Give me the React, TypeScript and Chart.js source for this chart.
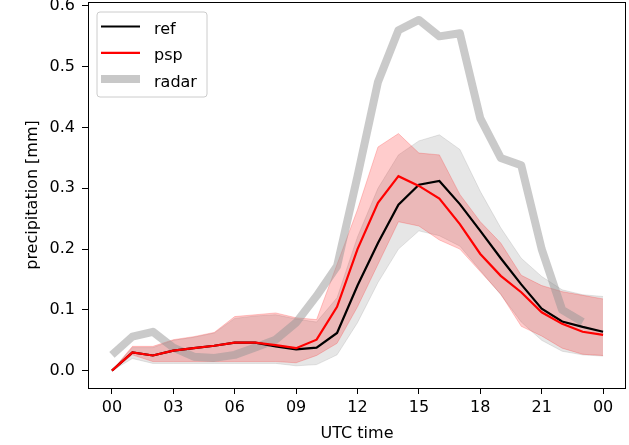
import React, { useEffect, useRef } from "react";
import { Chart, registerables } from "chart.js";

Chart.register(...registerables);

// ---- data ----
const hours = [0, 1, 2, 3, 4, 5, 6, 7, 8, 9, 10, 11, 12, 13, 14, 15, 16, 17, 18, 19, 20, 21, 22, 23, 24];
const tickHours = [0, 3, 6, 9, 12, 15, 18, 21, 24];
const tickLabels = ["00", "03", "06", "09", "12", "15", "18", "21", "00"];
const yTicks = [0, 0.1, 0.2, 0.3, 0.4, 0.5, 0.6];

const refValues = [0.0, 0.03, 0.025, 0.033, 0.037, 0.041, 0.046, 0.046, 0.04, 0.035, 0.038, 0.062, 0.14, 0.21, 0.273, 0.306, 0.312, 0.274, 0.23, 0.185, 0.142, 0.102, 0.081, 0.072, 0.064];
const refLow = [0.0, 0.02, 0.012, 0.012, 0.012, 0.012, 0.012, 0.012, 0.012, 0.008, 0.01, 0.026, 0.079, 0.145, 0.2, 0.23, 0.222, 0.205, 0.165, 0.125, 0.08, 0.05, 0.032, 0.026, 0.024];
const refHigh = [0.0, 0.038, 0.038, 0.05, 0.055, 0.062, 0.086, 0.09, 0.092, 0.085, 0.08, 0.12, 0.22, 0.3, 0.355, 0.378, 0.388, 0.364, 0.295, 0.235, 0.185, 0.155, 0.133, 0.125, 0.122];

const pspValues = [0.0, 0.03, 0.025, 0.033, 0.037, 0.041, 0.046, 0.046, 0.042, 0.037, 0.051, 0.105, 0.2, 0.276, 0.32, 0.304, 0.283, 0.241, 0.192, 0.156, 0.129, 0.096, 0.077, 0.064, 0.059];
const pspLow = [0.0, 0.026, 0.015, 0.015, 0.015, 0.015, 0.015, 0.015, 0.015, 0.013, 0.025, 0.045, 0.105, 0.175, 0.245, 0.238, 0.215, 0.2, 0.163, 0.126, 0.073, 0.057, 0.037, 0.027, 0.025];
const pspHigh = [0.0, 0.04, 0.04, 0.051, 0.056, 0.063, 0.089, 0.092, 0.095, 0.087, 0.084, 0.175, 0.265, 0.368, 0.39, 0.358, 0.355, 0.29, 0.245, 0.21, 0.157, 0.14, 0.13, 0.124, 0.118];

const radarValues = [0.026, 0.056, 0.064, 0.038, 0.023, 0.021, 0.026, 0.038, 0.051, 0.079, 0.123, 0.172, 0.32, 0.475, 0.56, 0.577, 0.55, 0.555, 0.415, 0.35, 0.338, 0.2, 0.1, 0.08, null];

const seriesLabels = { ref: "ref", psp: "psp", radar: "radar" };
const xTitle = "UTC time";
const yTitle = "precipitation [mm]";

const FONT = "'DejaVu Sans', 'Liberation Sans', sans-serif";

const pts = (vals: (number | null)[]) => hours.map((h, i) => ({ x: h, y: vals[i] }));

const legendOrder = [1, 0, 2];

const framePlugin = {
  id: "mplFrame",
  afterDatasetsDraw(chart: any) {
    const { ctx, chartArea } = chart;
    ctx.save();
    ctx.strokeStyle = "#000";
    ctx.lineWidth = 1;
    ctx.strokeRect(chartArea.left + 0.5, chartArea.top + 0.5, chartArea.right - chartArea.left - 1, chartArea.bottom - chartArea.top);
    ctx.restore();
  },
};

const legendPlugin = {
  id: "mplLegend",
  afterDraw(chart: any) {
    const { ctx, chartArea } = chart;
    const x0 = chartArea.left + 9;
    const y0 = chartArea.top + 10;
    const w = 110;
    const h = 85;
    const r = 3;
    ctx.save();
    ctx.beginPath();
    ctx.moveTo(x0 + r, y0);
    ctx.lineTo(x0 + w - r, y0);
    ctx.quadraticCurveTo(x0 + w, y0, x0 + w, y0 + r);
    ctx.lineTo(x0 + w, y0 + h - r);
    ctx.quadraticCurveTo(x0 + w, y0 + h, x0 + w - r, y0 + h);
    ctx.lineTo(x0 + r, y0 + h);
    ctx.quadraticCurveTo(x0, y0 + h, x0, y0 + h - r);
    ctx.lineTo(x0, y0 + r);
    ctx.quadraticCurveTo(x0, y0, x0 + r, y0);
    ctx.closePath();
    ctx.fillStyle = "rgba(255,255,255,0.8)";
    ctx.fill();
    ctx.strokeStyle = "#cccccc";
    ctx.lineWidth = 1;
    ctx.stroke();

    legendOrder.forEach((di, i) => {
      const ds = chart.data.datasets[di];
      const cy = y0 + 14.5 + i * 26.3;
      ctx.beginPath();
      ctx.strokeStyle = ds.legendColor || ds.borderColor;
      ctx.lineWidth = ds.borderWidth;
      ctx.lineCap = "butt";
      ctx.moveTo(x0 + 4, cy);
      ctx.lineTo(x0 + 43, cy);
      ctx.stroke();
      ctx.fillStyle = "#000";
      ctx.font = `16px ${FONT}`;
      ctx.textBaseline = "alphabetic";
      ctx.textAlign = "left";
      ctx.fillText(ds.label, x0 + 57, cy + 7.5);
    });
    ctx.restore();
  },
};

const zeroPadding = (s: any) => {
  s.paddingTop = 0;
  s.paddingBottom = 0;
  s.paddingLeft = 0;
  s.paddingRight = 0;
};

export default function App() {
  const canvasRef = useRef<HTMLCanvasElement | null>(null);

  useEffect(() => {
    const canvas = canvasRef.current;
    if (!canvas) return;
    const font = { family: FONT, size: 16 };
    const chart = new Chart(canvas, {
      type: "line",
      data: {
        datasets: [
          {
            label: seriesLabels.psp,
            data: pts(pspValues),
            borderColor: "#ff0000",
            borderWidth: 2.2,
            pointRadius: 0,
            fill: false,
            tension: 0,
          },
          {
            label: seriesLabels.ref,
            data: pts(refValues),
            borderColor: "#000000",
            borderWidth: 2.2,
            pointRadius: 0,
            fill: false,
            tension: 0,
          },
          {
            label: seriesLabels.radar,
            data: pts(radarValues),
            borderColor: "rgba(150,150,150,0.5)",
            legendColor: "#c8c8c8",
            borderWidth: 8,
            borderJoinStyle: "round",
            borderCapStyle: "butt",
            pointRadius: 0,
            fill: false,
            tension: 0,
            spanGaps: false,
          } as any,
          {
            label: "psp range high",
            data: pts(pspHigh),
            borderColor: "rgba(255,0,0,0.2)",
            backgroundColor: "rgba(255,0,0,0.2)",
            borderWidth: 1,
            pointRadius: 0,
            fill: { target: 4 },
            tension: 0,
          },
          {
            label: "psp range low",
            data: pts(pspLow),
            borderColor: "rgba(255,0,0,0.2)",
            borderWidth: 1,
            pointRadius: 0,
            fill: false,
            tension: 0,
          },
          {
            label: "ref range high",
            data: pts(refHigh),
            borderColor: "rgba(128,128,128,0.2)",
            backgroundColor: "rgba(128,128,128,0.2)",
            borderWidth: 1,
            pointRadius: 0,
            fill: { target: 6 },
            tension: 0,
          },
          {
            label: "ref range low",
            data: pts(refLow),
            borderColor: "rgba(128,128,128,0.2)",
            borderWidth: 1,
            pointRadius: 0,
            fill: false,
            tension: 0,
          },
        ],
      },
      options: {
        responsive: false,
        animation: false,
        devicePixelRatio: 1,
        layout: { padding: { top: 2, right: 3, left: 0, bottom: 0 } },
        plugins: {
          legend: { display: false },
          tooltip: { enabled: false },
          filler: { propagate: false },
        },
        scales: {
          x: {
            type: "linear",
            min: -1.17,
            max: 25.12,
            afterBuildTicks: (s: any) => {
              s.ticks = tickHours.map((v) => ({ value: v }));
            },
            afterFit: (s: any) => {
              s.height = 57;
              zeroPadding(s);
            },
            ticks: {
              autoSkip: false,
              maxRotation: 0,
              minRotation: 0,
              padding: 4,
              color: "#000",
              font,
              callback: (_v: any, i: number) => tickLabels[i],
            },
            grid: { display: true, drawOnChartArea: false, tickLength: 6, tickColor: "#000", tickWidth: 1 },
            border: { display: false },
            title: { display: true, text: xTitle, color: "#000", font, padding: { top: 0, bottom: 2 } },
          },
          y: {
            type: "linear",
            min: -0.0285,
            max: 0.6065,
            afterBuildTicks: (s: any) => {
              s.ticks = yTicks.map((v) => ({ value: v }));
            },
            afterFit: (s: any) => {
              s.width = 88;
              zeroPadding(s);
            },
            ticks: {
              autoSkip: false,
              padding: 7,
              color: "#000",
              font,
              callback: (v: any) => Number(v).toFixed(1),
            },
            grid: { display: true, drawOnChartArea: false, tickLength: 6, tickColor: "#000", tickWidth: 1 },
            border: { display: false },
            title: { display: true, text: yTitle, color: "#000", font, padding: { top: 23, bottom: 0 } },
          },
        },
      } as any,
      plugins: [framePlugin, legendPlugin],
    });
    return () => chart.destroy();
  }, []);

  return (
    <div style={{ position: "fixed", left: 0, top: 0, width: 629, height: 445, background: "#fff" }}>
      <canvas ref={canvasRef} width={629} height={445} style={{ display: "block" }} />
    </div>
  );
}
